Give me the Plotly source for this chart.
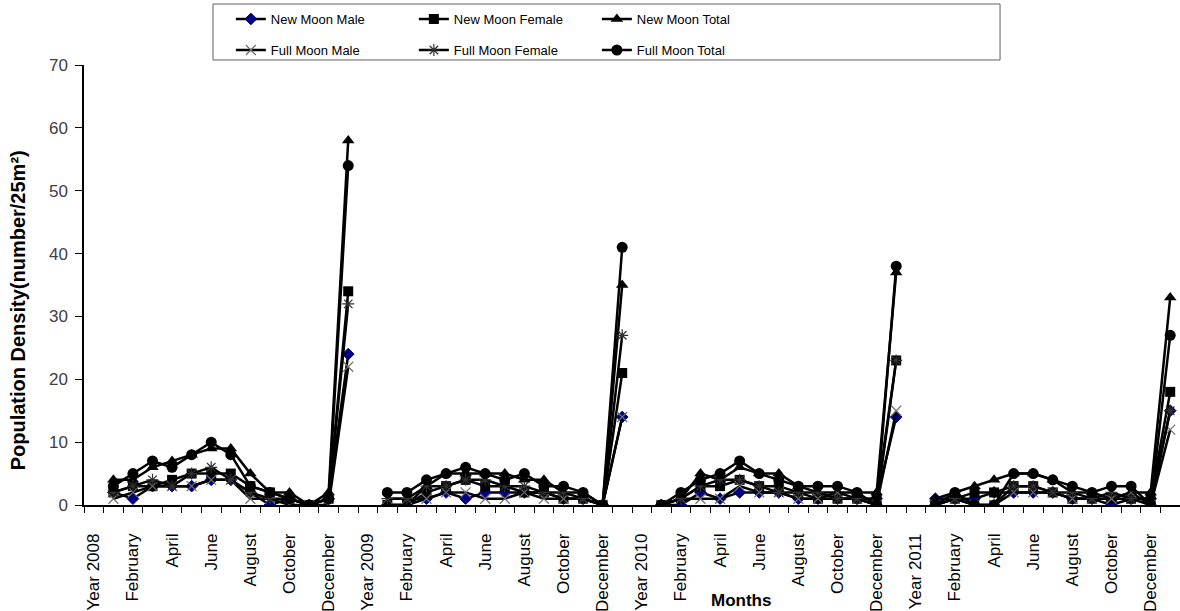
import plotly.graph_objects as go

months = ["January", "February", "March", "April", "May", "June", "July",
          "August", "September", "October", "November", "December"]
years = ["Year 2008", "Year 2009", "Year 2010", "Year 2011"]
categories = []
for y in years:
    categories += [y] + months + ["Total"]

N = None
new_moon_male = [N, 2, 1, 3, 3, 3, 4, 4, 2, 0, 1, 0, 1, 24,
                 N, 0, 0, 1, 2, 1, 2, 2, 2, 2, 1, 1, 0, 14,
                 N, 0, 0, 2, 1, 2, 2, 2, 1, 1, 1, 1, 1, 14,
                 N, 1, 1, 1, 2, 2, 2, 2, 1, 1, 0, 1, 1, 15]
new_moon_female = [N, 2, 3, 3, 4, 5, 5, 5, 3, 2, 1, 0, 1, 34,
                   N, 0, 0, 2, 3, 4, 3, 3, 2, 2, 1, 1, 0, 21,
                   N, 0, 1, 3, 3, 4, 3, 3, 2, 1, 1, 1, 1, 23,
                   N, 0, 1, 2, 2, 3, 3, 2, 1, 1, 1, 1, 1, 18]
new_moon_total = [N, 4, 4, 6, 7, 8, 9, 9, 5, 2, 2, 0, 2, 58,
                  N, 0, 0, 3, 5, 5, 5, 5, 4, 4, 2, 2, 0, 35,
                  N, 0, 1, 5, 4, 6, 5, 5, 3, 2, 2, 2, 2, 37,
                  N, 1, 2, 3, 4, 5, 5, 4, 2, 2, 1, 2, 2, 33]
full_moon_male = [N, 1, 2, 3, 3, 3, 4, 4, 1, 1, 0, 0, 0, 22,
                  N, 1, 1, 1, 2, 2, 1, 1, 2, 1, 1, 1, 0, 14,
                  N, 0, 1, 1, 1, 3, 2, 2, 1, 1, 2, 1, 0, 15,
                  N, 0, 1, 0, 0, 2, 2, 2, 1, 1, 1, 2, 0, 12]
full_moon_female = [N, 2, 3, 4, 3, 5, 6, 4, 2, 1, 1, 0, 1, 32,
                    N, 1, 1, 3, 3, 4, 4, 3, 3, 2, 2, 1, 0, 27,
                    N, 0, 1, 3, 4, 4, 3, 2, 2, 2, 1, 1, 0, 23,
                    N, 0, 1, 0, 0, 3, 3, 2, 2, 1, 2, 1, 0, 15]
full_moon_total = [N, 3, 5, 7, 6, 8, 10, 8, 3, 2, 1, 0, 1, 54,
                   N, 2, 2, 4, 5, 6, 5, 4, 5, 3, 3, 2, 0, 41,
                   N, 0, 2, 4, 5, 7, 5, 4, 3, 3, 3, 2, 0, 38,
                   N, 0, 2, 0, 0, 5, 5, 4, 3, 2, 3, 3, 0, 27]

x_idx = list(range(len(categories)))

series = [
    ("New Moon Male", new_moon_male,
     dict(symbol="diamond", size=9, color="#000080", line=dict(color="#000080", width=1)), "legend"),
    ("New Moon Female", new_moon_female,
     dict(symbol="square", size=10, color="black"), "legend"),
    ("New Moon Total", new_moon_total,
     dict(symbol="triangle-up", size=11, color="black"), "legend"),
    ("Full Moon Male", full_moon_male,
     dict(symbol="x-thin", size=10, color="#707070", line=dict(color="#707070", width=1.2)), "legend2"),
    ("Full Moon Female", full_moon_female,
     dict(symbol="asterisk", size=10, color="#303030", line=dict(color="#303030", width=1.2)), "legend2"),
    ("Full Moon Total", full_moon_total,
     dict(symbol="circle", size=11, color="black"), "legend2"),
]

fig = go.Figure()
for name, vals, mk, lg in series:
    fig.add_trace(go.Scatter(
        x=x_idx, y=vals, name=name, mode="lines+markers",
        line=dict(color="black", width=2.5), marker=mk,
        connectgaps=False, legend=lg,
    ))

font_main = "Liberation Sans, Arial, sans-serif"
font_legend = "Liberation Sans, Arial, sans-serif"

tick_vals = [i for i in x_idx if i % 2 == 0]
tick_text = [categories[i] for i in tick_vals]

legend_common = dict(orientation="h", xanchor="left", yanchor="middle",
                     entrywidth=138, entrywidthmode="pixels",
                     font=dict(family=font_legend, size=13, color="black"),
                     bgcolor="rgba(0,0,0,0)")

fig.update_layout(
    width=1180, height=611,
    margin=dict(l=84, r=0, t=65, b=106, autoexpand=False),
    paper_bgcolor="white", plot_bgcolor="white",
    showlegend=True,
    legend=dict(x=0.134, y=1.1045, **legend_common),
    legend2=dict(x=0.134, y=1.034, **legend_common),
    xaxis=dict(
        range=[-0.5, len(categories) - 0.5], tickmode="array",
        tickvals=tick_vals, ticktext=tick_text, tickangle=-90,
        ticks="", ticklabelstandoff=20,
        tickfont=dict(family=font_main, size=17, color="black"),
        showline=True, linecolor="black", linewidth=1.5, showgrid=False, zeroline=False,
        minor=dict(tickmode="linear", tick0=-0.5, dtick=1, ticks="outside",
                   ticklen=6, tickcolor="black", tickwidth=1, showgrid=False),
    ),
    yaxis=dict(
        range=[0, 70], dtick=10, tick0=0, ticks="outside", ticklen=7,
        tickcolor="black", tickwidth=1, ticklabelstandoff=4,
        tickfont=dict(family=font_main, size=17, color="#404040"),
        showline=True, linecolor="black", linewidth=1.5, showgrid=False, zeroline=False,
    ),
    shapes=[dict(type="rect", xref="paper", yref="paper",
                 x0=0.1177, x1=0.8358, y0=1.0114, y1=1.1386,
                 line=dict(color="#606060", width=1), fillcolor="rgba(0,0,0,0)")],
    annotations=[
        dict(text="<b>Months</b>", xref="paper", yref="paper", x=0.5995, y=-0.218,
             xanchor="center", yanchor="middle", showarrow=False,
             font=dict(family=font_main, size=17, color="black")),
        dict(text="<b>Population Density(number/25m²)</b>", xref="paper", yref="paper",
             x=-0.060, y=0.443, xanchor="center", yanchor="middle", textangle=-90,
             showarrow=False, font=dict(family=font_main, size=20, color="black")),
    ],
)

fig.write_html("out.html")
